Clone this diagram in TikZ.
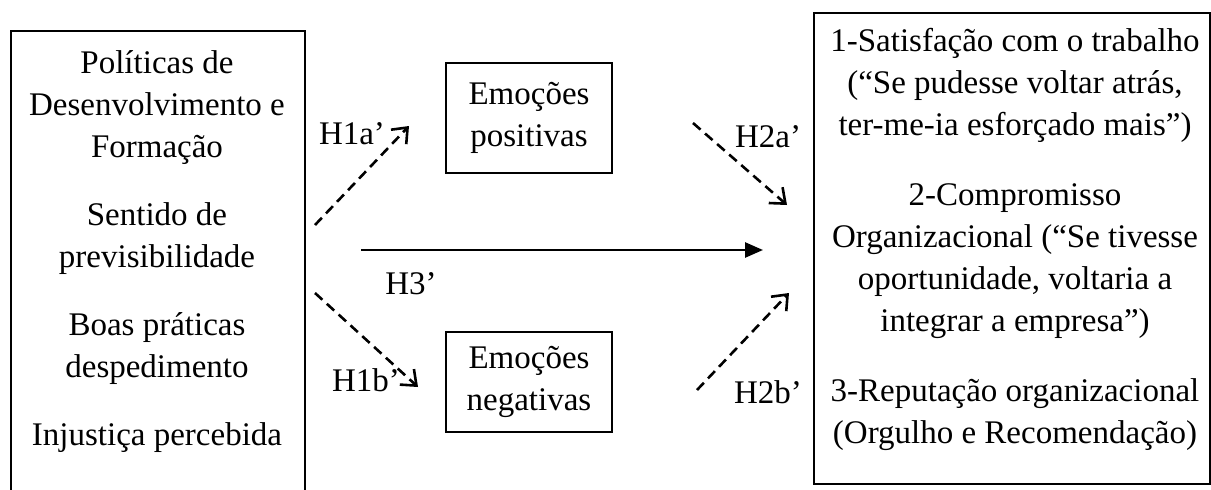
\documentclass[tikz,border=0pt]{standalone}
\usepackage{fontspec}
\setmainfont{Liberation Serif}
\usetikzlibrary{positioning,arrows.meta}

\begin{document}
\begin{tikzpicture}[x=1pt,y=-1pt,every node/.style={font=\fontsize{33}{42}\selectfont},
  frame/.style={draw,line width=2pt,inner sep=0pt,align=center},
  txt/.style={inner sep=0pt,align=center},
  dasharrow/.style={line width=2.6pt,dash pattern=on 10pt off 6pt,-{Straight Barb[length=13pt,width=21pt,line width=2.6pt]}},
  fullarrow/.style={line width=2.6pt,-{Triangle[length=18pt,width=15pt]}}]
\useasboundingbox (0,0) rectangle (1211,490);
\clip (0,0) rectangle (1211,490);
\node[frame,minimum width=294pt,minimum height=500pt,anchor=north west] (leftbox) at (10,30) {};
\node[txt] (drivers) at (157,252) {Políticas de\\Desenvolvimento e\\Formação\\[26pt]Sentido de\\previsibilidade\\[26pt]Boas práticas\\despedimento\\[26pt]Injustiça percebida};
\node[frame,minimum width=396pt,minimum height=471pt,anchor=north west] (rightbox) at (813,12) {};
\node[txt] (outcomes) at (1015,239) {1-Satisfação com o trabalho\\(“Se pudesse voltar atrás,\\ter-me-ia esforçado mais”)\\[28pt]2-Compromisso\\Organizacional (“Se tivesse\\oportunidade, voltaria a\\integrar a empresa”)\\[28pt]3-Reputação organizacional\\(Orgulho e Recomendação)};
\node[frame,minimum width=166pt,minimum height=110pt] (pos) at (529,118) {Emoções\\positivas};
\node[frame,minimum width=166pt,minimum height=100pt] (neg) at (529,382) {Emoções\\negativas};
% arrow ends
\coordinate (h1a0) at (315,225); \coordinate (h1a1) at (409,126);
\coordinate (h1b0) at (315,293); \coordinate (h1b1) at (418,387);
\coordinate (h2a0) at (693,123); \coordinate (h2a1) at (787,205);
\coordinate (h2b0) at (697,390); \coordinate (h2b1) at (789,293);
\coordinate (h30) at (361,250); \coordinate (h31) at (763,250);
\draw[dasharrow] (h1a0) -- (h1a1);
\draw[dasharrow] (h1b0) -- (h1b1);
\draw[dasharrow] (h2a0) -- (h2a1);
\draw[dasharrow] (h2b0) -- (h2b1);
\draw[fullarrow] (h30) -- (h31);
\node[txt] (l1a) at (352,134) {H1a’};
\node[txt] (l1b) at (366,380) {H1b’};
\node[txt] (l2a) at (768,137) {H2a’};
\node[txt] (l2b) at (768,392) {H2b’};
\node[txt] (l3) at (411,284) {H3’};
\end{tikzpicture}
\end{document}
